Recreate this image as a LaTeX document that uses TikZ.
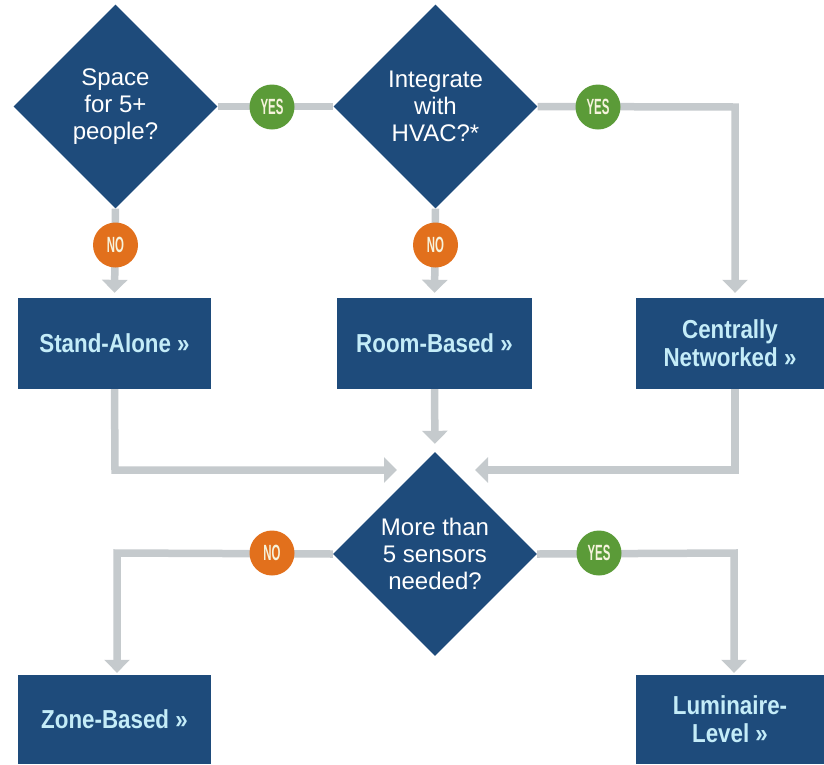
\documentclass[tikz,border=0pt]{standalone}
\usepackage{fontspec}
\setmainfont{Liberation Sans}
\newfontfamily\diafont{Liberation Sans}
\newfontfamily\boxfont[FakeStretch=0.86]{Liberation Sans Bold}
\newfontfamily\circfont[FakeStretch=0.52]{Liberation Sans Bold}
\usetikzlibrary{shapes.geometric,arrows.meta}
\definecolor{navy}{HTML}{1E4B7B}
\definecolor{boxtext}{HTML}{C4ECF8}
\definecolor{linegray}{HTML}{C5CACD}
\definecolor{yesgreen}{HTML}{5B9B38}
\definecolor{noorange}{HTML}{E2701C}
\definecolor{circtext}{HTML}{F6F3DC}
\tikzset{
  dia/.style={diamond, aspect=1, minimum width=204pt, minimum height=204pt, inner sep=0pt,
    fill=navy, text=white, align=center, font=\diafont\fontsize{24}{27}\selectfont},
  choice/.style={rectangle, fill=navy, text=boxtext, align=center, inner sep=0pt,
    font=\boxfont\fontsize{26}{28}\selectfont},
  yesc/.style={circle, fill=yesgreen, minimum size=45pt, inner sep=0pt, text=circtext,
    font=\circfont\fontsize{22}{22}\selectfont},
  noc/.style={yesc, fill=noorange},
  conn/.style={draw=linegray, line width=7.5pt},
  arr/.style={conn, -{Triangle[width=25pt,length=13pt]}},
}
\begin{document}
\begin{tikzpicture}[x=1pt,y=-1pt]
\useasboundingbox (0,0) rectangle (824,764);
% decisions
\node[dia] (d1) at (115.5,106.5) {Space\\for 5+\\people?};
\node[dia] (d2) at (435.5,106.5) {Integrate\\with\\HVAC?*};
\node[dia] (d3) at (435,554) {More than\\5 sensors\\needed?};
% outcomes
\node[choice, minimum width=193pt, minimum height=91pt] (sa) at (114.5,343.5) {Stand-Alone »};
\node[choice, minimum width=195pt, minimum height=91pt] (rb) at (434.5,343.5) {Room-Based »};
\node[choice, minimum width=188pt, minimum height=91pt] (cn) at (730,343.5) {Centrally\\Networked »};
\node[choice, minimum width=193pt, minimum height=89pt] (zb) at (114.5,719.5) {Zone-Based »};
\node[choice, minimum width=188pt, minimum height=89pt] (ll) at (730,719.5) {Luminaire-\\Level »};
% label circles positions
\coordinate (py1) at (272,107);
\coordinate (py2) at (598,107);
\coordinate (pn1) at (115.5,245);
\coordinate (pn2) at (435.5,245);
\coordinate (pn3) at (272,553);
\coordinate (py3) at (599,553);
% corner coordinates
\coordinate (k1) at (735,107);
\coordinate (k2) at (115,470);
\coordinate (t2) at (397,470);
\coordinate (k3) at (735,470);
\coordinate (t3) at (475,470);
\coordinate (k4) at (117,553);
\coordinate (k5) at (734,553);
% connectors
\draw[conn] (d1.east) -- (d2.west);
\draw[arr, shorten >=5pt] (d2.east) -- (k1) -- (k1 |- cn.north);
\draw[arr, shorten >=5pt] (d1.south) -- (sa.north);
\draw[arr, shorten >=5pt] (d2.south) -- (rb.north);
\draw[arr] (sa.south) -- (k2) -- (t2);
\draw[arr, shorten >=8pt] (rb.south) -- (d3.north);
\draw[arr] (k3 |- cn.south) -- (k3) -- (t3);
\draw[arr, shorten >=2pt] (d3.west) -- (k4) -- (k4 |- zb.north);
\draw[arr, shorten >=2pt] (d3.east) -- (k5) -- (k5 |- ll.north);
% circles
\node[yesc] (y1) at (py1) {YES};
\node[yesc] (y2) at (py2) {YES};
\node[noc] (n1) at (pn1) {NO};
\node[noc] (n2) at (pn2) {NO};
\node[noc] (n3) at (pn3) {NO};
\node[yesc] (y3) at (py3) {YES};
\end{tikzpicture}
\end{document}
